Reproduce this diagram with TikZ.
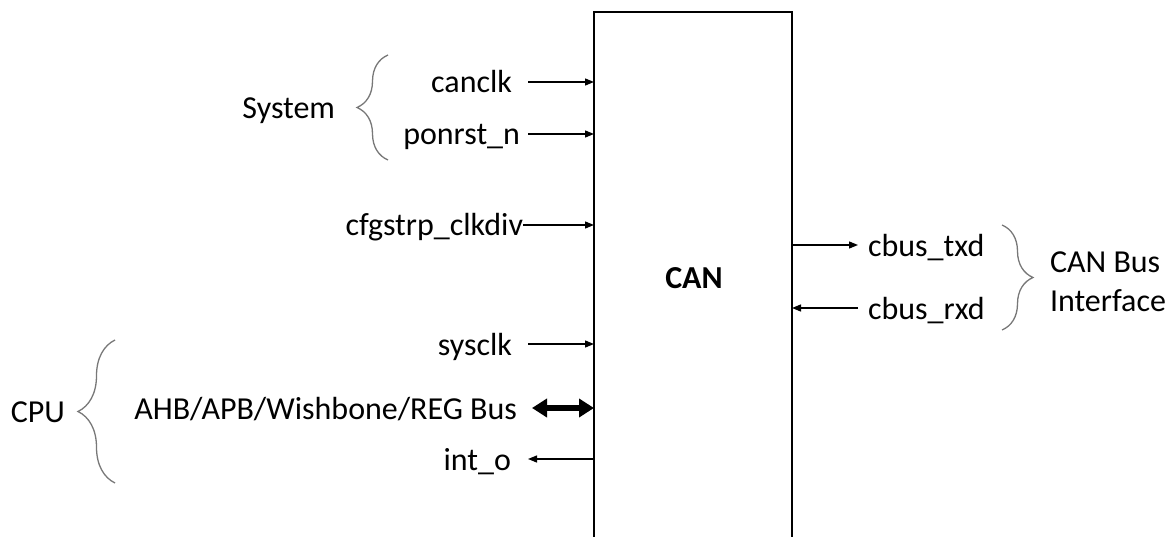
\documentclass[tikz,border=0pt]{standalone}
\usepackage{fontspec}
\setmainfont{Carlito}
\usetikzlibrary{decorations.pathreplacing,arrows.meta}
\definecolor{bracegray}{RGB}{120,120,120}
\begin{document}
\begin{tikzpicture}[x=1pt,y=-1pt,
  txt/.style={inner sep=0pt,outer sep=0pt,font=\fontsize{32}{39}\selectfont},
  lbl/.style={txt,anchor=base east},
  lblw/.style={txt,anchor=base west},
  sig/.style={line width=1.3pt,-{Triangle[length=9pt,width=7pt]}},
  bus/.style={line width=6pt,{Triangle[length=15pt,width=18pt]}-{Triangle[length=15pt,width=18pt]}},
  brc/.style={draw=bracegray,line width=1.3pt,decorate,decoration={brace,amplitude=#1}},
  brc/.default=31pt,
  blk/.style={line width=2.6pt}]
\useasboundingbox (0,0) rectangle (1174,537);
% block
\node[minimum width=198pt,minimum height=545pt,anchor=north west,inner sep=0pt,outer sep=0pt] (can) at (594,12) {};
\draw[blk] (can.south west) -- (can.north west) -- (can.north east) -- (can.south east);
\node[txt,font=\fontsize{32}{39}\selectfont\bfseries] (title) at (694,278) {CAN};
% left signal labels
\node[lbl] (canclk) at (512,93) {canclk};
\node[lbl] (ponrst) at (520,145) {ponrst\_n};
\node[lbl] (cfg) at (523,236) {cfgstrp\_clkdiv};
\node[lbl] (sysclk) at (512,355) {sysclk};
\node[lbl] (ahb) at (517,419) {AHB/APB/Wishbone/REG Bus};
\node[lbl] (into) at (511,470) {int\_o};
% right signal labels
\node[lblw] (txd) at (868,256) {cbus\_txd};
\node[lblw] (rxd) at (868,319) {cbus\_rxd};
% group labels
\node[lbl] (sys) at (335,119) {System};
\node[lbl] (cpu) at (65,422) {CPU};
\node[txt,anchor=west,align=left] (canbus) at (1050,282) {CAN Bus\\Interface};
% arrow start points
\coordinate (pc1) at (528,82);
\coordinate (pc2) at (528,134);
\coordinate (pc3) at (523,225);
\coordinate (pc4) at (528,344);
\coordinate (pc5) at (532,408);
\coordinate (pc6) at (528,459);
\coordinate (pt1) at (858,245);
\coordinate (pt2) at (858,308);
% connectors
\draw[sig] (pc1) -- (pc1 -| can.west);
\draw[sig] (pc2) -- (pc2 -| can.west);
\draw[sig] (pc3) -- (pc3 -| can.west);
\draw[sig] (pc4) -- (pc4 -| can.west);
\draw[bus] (pc5) -- (pc5 -| can.west);
\draw[sig] (pc6 -| can.west) -- (pc6);
\draw[sig] (pt1 -| can.east) -- (pt1);
\draw[sig] (pt2) -- (pt2 -| can.east);
% braces
\draw[brc] (388,160) -- (388,55);
\draw[brc=37pt] (115,483) -- (115,340);
\draw[brc] (1002,225) -- (1002,330);
\end{tikzpicture}
\end{document}
